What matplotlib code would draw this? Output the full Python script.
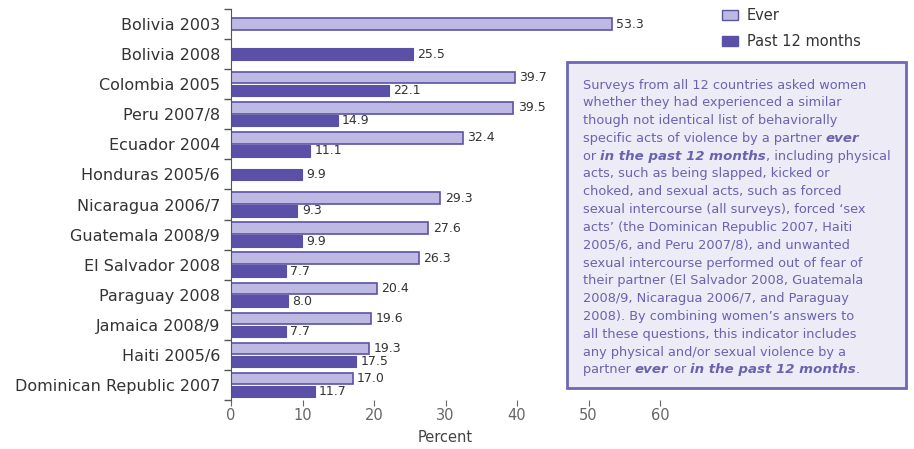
import numpy as np
import matplotlib
matplotlib.use("Agg")
import matplotlib.pyplot as plt
from matplotlib.patches import Patch, FancyBboxPatch

# Datos
encuestas = ["Bolivia 2003", "Bolivia 2008", "Colombia 2005", "Peru 2007/8",
             "Ecuador 2004", "Honduras 2005/6", "Nicaragua 2006/7",
             "Guatemala 2008/9", "El Salvador 2008", "Paraguay 2008",
             "Jamaica 2008/9", "Haiti 2005/6", "Dominican Republic 2007"]
alguna_vez = [53.3, None, 39.7, 39.5, 32.4, None, 29.3, 27.6, 26.3, 20.4, 19.6, 19.3, 17.0]
ultimos_12 = [None, 25.5, 22.1, 14.9, 11.1, 9.9, 9.3, 9.9, 7.7, 8.0, 7.7, 17.5, 11.7]
ticks_x = [0, 10, 20, 30, 40, 50, 60]

C_EVER = "#bdb9e2"
C_EDGE = "#5c53a8"
C_PAST = "#5a50a8"
C_TXT = "#6a62b0"

W, H = 914, 449
fig = plt.figure(figsize=(W / 100, H / 100), dpi=100)
ax = fig.add_axes([231 / W, 1 - 400 / H, (660 - 231) / W, (400 - 9) / H])

alto = 0.38
desp = 0.215
for i, (e, p) in enumerate(zip(alguna_vez, ultimos_12)):
    ambos = e is not None and p is not None
    if e is not None:
        y = i - desp if ambos else i
        ax.barh(y, e, height=alto, color=C_EVER, edgecolor=C_EDGE, linewidth=1.2)
        ax.text(e + 0.6, y, f"{e:.1f}", va="center", ha="left", fontsize=9, color="#333333")
    if p is not None:
        y = i + desp if ambos else i
        ax.barh(y, p, height=alto, color=C_PAST, edgecolor=C_PAST, linewidth=0.8)
        ax.text(p + 0.6, y, f"{p:.1f}", va="center", ha="left", fontsize=9, color="#333333")

n = len(encuestas)
ax.set_ylim(n - 0.5, -0.5)
ax.set_xlim(0, 60)
ax.set_yticks(range(n))
ax.set_yticklabels(encuestas, fontsize=11.5, color="#333333")
ax.set_yticks(np.arange(-0.5, n), minor=True)
ax.tick_params(axis="y", which="major", length=0, pad=8)
ax.tick_params(axis="y", which="minor", length=5, color="#555555", width=1)
ax.set_xticks(ticks_x)
ax.tick_params(axis="x", length=4, color="#666666", labelsize=10.5, labelcolor="#666666", pad=1.5)
for s in ["top", "right", "bottom"]:
    ax.spines[s].set_visible(False)
ax.spines["left"].set_color("#555555")
ax.set_xlabel("Percent", fontsize=10.5, color="#444444", labelpad=5)

# Leyenda
manejadores = [Patch(facecolor=C_EVER, edgecolor=C_EDGE, linewidth=1.0, label="Ever"),
               Patch(facecolor=C_PAST, edgecolor=C_PAST, label="Past 12 months")]
fig.legend(handles=manejadores, loc="upper left", bbox_to_anchor=(709 / W, 1 + 5 / H),
           frameon=False, fontsize=10.5, handlelength=1.1, handleheight=0.6,
           labelspacing=0.75, handletextpad=0.6, labelcolor="#333333")

# Recuadro de nota
x0, y0, x1, y1 = 567, 62, 906, 388
caja = FancyBboxPatch((x0 / W, 1 - y1 / H), (x1 - x0) / W, (y1 - y0) / H,
                      boxstyle="square,pad=0", transform=fig.transFigure,
                      facecolor="#ecebf6", edgecolor="#6e67b6", linewidth=2)
fig.patches.append(caja)

N, BI = "normal", "bi"
lineas = [
    [("Surveys from all 12 countries asked women", N)],
    [("whether they had experienced a similar", N)],
    [("though not identical list of behaviorally", N)],
    [("specific acts of violence by a partner ", N), ("ever", BI)],
    [("or ", N), ("in the past 12 months", BI), (", including physical", N)],
    [("acts, such as being slapped, kicked or", N)],
    [("choked, and sexual acts, such as forced", N)],
    [("sexual intercourse (all surveys), forced \u2018sex", N)],
    [("acts\u2019 (the Dominican Republic 2007, Haiti", N)],
    [("2005/6, and Peru 2007/8), and unwanted", N)],
    [("sexual intercourse performed out of fear of", N)],
    [("their partner (El Salvador 2008, Guatemala", N)],
    [("2008/9, Nicaragua 2006/7, and Paraguay", N)],
    [("2008). By combining women\u2019s answers to", N)],
    [("all these questions, this indicator includes", N)],
    [("any physical and/or sexual violence by a", N)],
    [("partner ", N), ("ever", BI), (" or ", N), ("in the past 12 months", BI), (".", N)],
]

renderer = fig.canvas.get_renderer()
y_px = 85
for linea in lineas:
    x_px = 583
    for texto, estilo in linea:
        kw = dict(fontsize=9.3, color=C_TXT, va="center", ha="left")
        if estilo == BI:
            kw.update(style="italic", weight="bold", fontsize=9.6)
        t = fig.text(x_px / W, 1 - y_px / H, texto, **kw)
        x_px += t.get_window_extent(renderer).width
    y_px += 17.8

fig.savefig("out.png", dpi=100)
